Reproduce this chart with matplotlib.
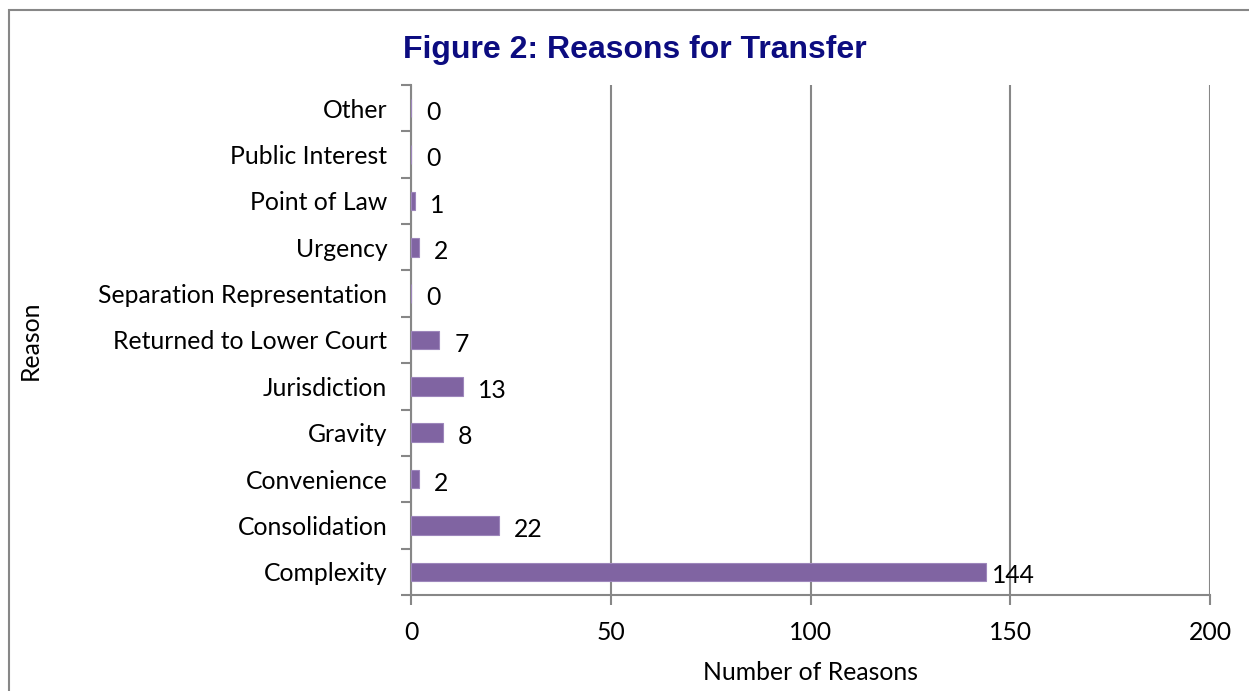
import matplotlib
matplotlib.use("Agg")
import matplotlib.pyplot as plt
from matplotlib.patches import Rectangle

categories = ["Complexity", "Consolidation", "Convenience", "Gravity", "Jurisdiction",
              "Returned to Lower Court", "Separation Representation", "Urgency",
              "Point of Law", "Public Interest", "Other"]
values = [144, 22, 2, 8, 13, 7, 0, 2, 1, 0, 0]
xticks = [0, 50, 100, 150, 200]

W, H = 1249, 691
fig = plt.figure(figsize=(W / 100, H / 100), dpi=100)
fig.patches.append(Rectangle((9 / W, -0.1), 1.2, 1.1 - 10 / H, transform=fig.transFigure,
                             fill=False, edgecolor="#878787", linewidth=1.5))

ax = fig.add_axes([411 / W, 1 - 595 / H, (1210 - 411) / W, (595 - 85) / H])
lab_font = "Lato"
fs = 17.8
gray = "#878787"

y = list(range(len(categories)))
ax.barh(y, values, height=0.4, color="#8064A2", edgecolor="#9d86bb", linewidth=0.8, zorder=3)
for yi, v in zip(y, values):
    off = 4 if v > 100 else 11
    ax.annotate(str(v), (v, yi), xytext=(off, -3), textcoords="offset points",
                ha="left", va="center", fontsize=fs, family=lab_font, color="black")

ax.set_xlim(0, 200)
ax.set_ylim(-0.5, len(categories) - 0.5)
ax.set_xticks(xticks)
ax.set_xticklabels([str(t) for t in xticks], fontsize=fs, family=lab_font)
ax.set_yticks(y)
ax.set_yticklabels(categories, fontsize=fs, family=lab_font)
ax.set_yticks([i - 0.5 for i in range(len(categories) + 1)], minor=True)
ax.tick_params(axis="y", which="major", length=0, pad=17)
ax.tick_params(axis="y", which="minor", length=7, width=1.5, color=gray)
ax.tick_params(axis="x", length=7, width=1.5, color=gray, pad=12)
ax.grid(axis="x", color=gray, linewidth=1.5, zorder=0)
for s in ["top", "right"]:
    ax.spines[s].set_visible(False)
for s in ["left", "bottom"]:
    ax.spines[s].set_color(gray)
    ax.spines[s].set_linewidth(1.5)

ax.set_xlabel("Number of Reasons", fontsize=fs, family=lab_font, labelpad=12)
ax.set_ylabel("Reason", fontsize=fs, family=lab_font)
ax.yaxis.set_label_coords(-0.4625, 0.5)

fig.text(635 / W, 1 - 50 / H, "Figure 2: Reasons for Transfer", ha="center", va="center",
         fontsize=23, fontweight="bold", family="Liberation Sans", color="#0C0C80")

fig.savefig("out.png", dpi=100)
